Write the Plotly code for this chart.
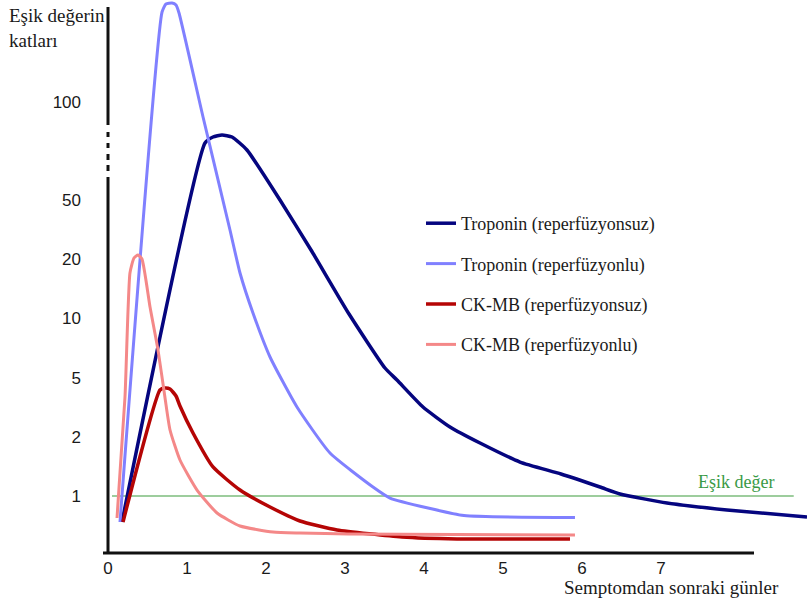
import plotly.graph_objects as go

# ---------------- data ----------------
# x: days after symptom onset; y: position on the chart's schematic
# "multiples of threshold" scale (0 -> 1x, 1 -> 2x, 2 -> 5x, 3 -> 10x,
# 4 -> 20x, 5 -> 50x, 6.655 -> 100x; axis is broken between 50 and 100)
y_tick_pos = [0, 1, 2, 3, 4, 5, 6.655]
y_tick_text = ["1", "2", "5", "10", "20", "50", "100"]
x_tick_pos = [0, 1, 2, 3, 4, 5, 6, 7]
x_tick_text = ["0", "1", "2", "3", "4", "5", "6", "7"]

series_names = [
    "Troponin (reperfüzyonsuz)",
    "Troponin (reperfüzyonlu)",
    "CK-MB (reperfüzyonsuz)",
    "CK-MB (reperfüzyonlu)",
]

trop_nonrep_day = [0.177, 1.228, 1.329, 1.443, 1.570, 1.759, 2.177, 2.570, 3.051,
                   3.506, 3.658, 3.987, 4.329, 4.709, 5.215, 5.734,
                   6.228, 6.481, 7.076, 7.835, 8.848]
trop_nonrep_lvl = [-0.439, 5.963, 6.064, 6.098, 6.064, 5.845, 5.000, 4.155, 3.074,
                   2.162, 1.959, 1.503, 1.166, 0.895, 0.574, 0.372,
                   0.152, 0.034, -0.118, -0.236, -0.355]

trop_rep_day = [0.152, 0.684, 0.734, 0.810, 0.861, 0.899, 1.203, 1.544, 1.671, 1.835,
                2.051, 2.392, 2.810, 3.354, 3.570, 4.051, 4.506, 5.911]
trop_rep_lvl = [-0.439, 8.176, 8.311, 8.328, 8.294, 8.159, 6.402, 4.493, 3.767, 3.091,
                2.348, 1.503, 0.726, 0.152, -0.034, -0.203, -0.330, -0.365]

ckmb_nonrep_day = [0.190, 0.658, 0.722, 0.785, 0.861, 0.911, 1.076, 1.329, 1.671, 2.051,
                   2.430, 2.899, 3.722, 4.418, 5.848]
ckmb_nonrep_lvl = [-0.439, 1.791, 1.824, 1.807, 1.689, 1.520, 1.064, 0.490, 0.101, -0.186,
                   -0.422, -0.574, -0.693, -0.726, -0.726]

ckmb_rep_day = [0.114, 0.215, 0.278, 0.329, 0.380, 0.430, 0.532, 0.633, 0.722, 0.785,
                0.911, 1.127, 1.380, 1.671, 2.089, 2.430, 3.038, 5.911]
ckmb_rep_lvl = [-0.372, 1.672, 3.767, 4.020, 4.071, 4.003, 3.193, 2.466, 1.655, 1.115,
                0.608, 0.101, -0.287, -0.507, -0.608, -0.625, -0.642, -0.659]

threshold_lvl = 0          # 1x threshold
threshold_x = [0.05, 8.68]
threshold_label = "Eşik değer"

# ---------------- figure ----------------
W, H = 807, 602
ML, MB = 106, 49
plot_w, plot_h = W - ML, H - MB

def px_to_paper_y(py):
    return 1 - py / plot_h

def px_to_paper_x(px):
    return (px - ML) / plot_w

colors = ["#05057f", "#8080ff", "#b50505", "#f48888"]
widths = [3.5, 3, 3.5, 3]
xs = [trop_nonrep_day, trop_rep_day, ckmb_nonrep_day, ckmb_rep_day]
ys = [trop_nonrep_lvl, trop_rep_lvl, ckmb_nonrep_lvl, ckmb_rep_lvl]

fig = go.Figure()
for i in range(4):
    fig.add_trace(go.Scatter(
        x=xs[i], y=ys[i], mode="lines", name=series_names[i],
        legendgroup=f"g{i}",
        line=dict(color=colors[i], width=widths[i], shape="spline", smoothing=0.5),
        hoverinfo="skip",
    ))

shapes = []
# threshold line
shapes.append(dict(type="line", xref="x", yref="y",
                   x0=threshold_x[0], x1=threshold_x[1],
                   y0=threshold_lvl, y1=threshold_lvl,
                   line=dict(color="#3c9c3c", width=1.1), layer="below"))
# y-axis with break
ax_col = "#111111"
for (a, b) in [(7, 125), (132, 137), (143, 148), (154, 160), (165, 171), (177, 553)]:
    shapes.append(dict(type="line", xref="paper", yref="paper",
                       x0=px_to_paper_x(108), x1=px_to_paper_x(108),
                       y0=px_to_paper_y(a), y1=px_to_paper_y(b),
                       line=dict(color=ax_col, width=3)))
# x-axis line
shapes.append(dict(type="line", xref="paper", yref="paper",
                   x0=px_to_paper_x(103), x1=px_to_paper_x(754),
                   y0=px_to_paper_y(553), y1=px_to_paper_y(553),
                   line=dict(color=ax_col, width=3)))

annotations = [
    dict(text="Eşik değerin<br>katları", xref="paper", yref="paper",
         x=px_to_paper_x(7), y=px_to_paper_y(3), xanchor="left", yanchor="top",
         align="left", showarrow=False,
         font=dict(family="Liberation Serif", size=19, color="#1a1a1a")),
    dict(text="Semptomdan sonraki günler", xref="paper", yref="paper",
         x=px_to_paper_x(562), y=px_to_paper_y(587), xanchor="left", yanchor="middle",
         showarrow=False,
         font=dict(family="Liberation Serif", size=19, color="#1a1a1a")),
    dict(text=threshold_label, xref="x", yref="y",
         x=7.95, y=threshold_lvl + 0.24, xanchor="center", yanchor="middle",
         showarrow=False,
         font=dict(family="Liberation Serif", size=18, color="#3a9a46")),
]

fig.update_layout(
    width=W, height=H,
    margin=dict(l=ML, r=0, t=0, b=MB, pad=0),
    paper_bgcolor="white", plot_bgcolor="white",
    shapes=shapes, annotations=annotations,
    showlegend=True,
    legend=dict(x=px_to_paper_x(421), xanchor="left",
                y=px_to_paper_y(205), yanchor="top",
                bgcolor="rgba(0,0,0,0)", tracegroupgap=14,
                font=dict(family="Liberation Serif", size=18, color="#1a1a1a")),
    xaxis=dict(range=[(ML - 108) / 79, (W - 108) / 79],
               tickvals=x_tick_pos, ticktext=x_tick_text,
               showgrid=False, zeroline=False, showline=False, ticks="",
               ticklabelstandoff=3,
               tickfont=dict(family="Liberation Sans", size=17, color="#1a1a1a")),
    yaxis=dict(range=[(496 - plot_h) / 59.2, 496 / 59.2],
               tickvals=y_tick_pos, ticktext=y_tick_text,
               showgrid=False, zeroline=False, showline=False, ticks="",
               ticklabelstandoff=24,
               tickfont=dict(family="Liberation Sans", size=17, color="#1a1a1a")),
)

fig.write_html("out.html")
